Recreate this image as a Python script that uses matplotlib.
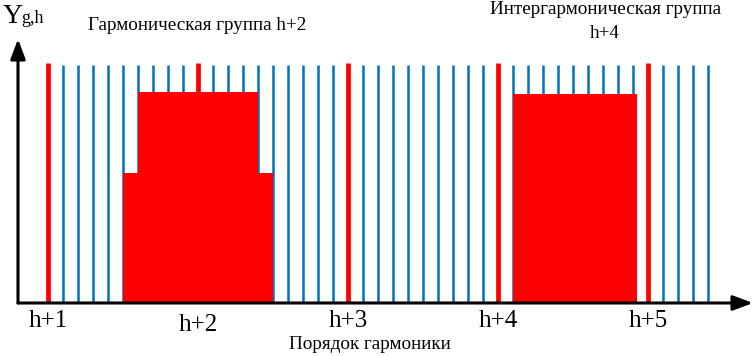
import matplotlib
matplotlib.use("Agg")
import matplotlib.pyplot as plt

# ---- data ----
harmonic_orders = [1, 2, 3, 4, 5]
harmonic_labels = ["h+1", "h+2", "h+3", "h+4", "h+5"]
harmonic_level = [1.01, 1.01, 1.01, 1.01, 1.01]

interharmonic_bins = [1.1, 1.2, 1.3, 1.4, 1.5, 1.6, 1.7, 1.8, 1.9,
                      2.1, 2.2, 2.3, 2.4, 2.5, 2.6, 2.7, 2.8, 2.9,
                      3.1, 3.2, 3.3, 3.4, 3.5, 3.6, 3.7, 3.8, 3.9,
                      4.1, 4.2, 4.3, 4.4, 4.5, 4.6, 4.7, 4.8, 4.9,
                      5.1, 5.2, 5.3, 5.4]
interharmonic_level = [1.0] * len(interharmonic_bins)

# harmonic group h+2: (left edge, right edge, height)
harm_group_left = [1.5, 1.6, 2.4]
harm_group_right = [1.6, 2.4, 2.5]
harm_group_height = [0.546, 0.887, 0.546]

# interharmonic group h+4
inter_group_left = [4.1]
inter_group_right = [4.925]
inter_group_height = [0.878]

RED = "#FF0000"
BLUE = "#0070C0"
SERIF = ["Liberation Serif", "DejaVu Serif"]

W, H = 755, 356
fig = plt.figure(figsize=(W / 100, H / 100), dpi=100)
ax = fig.add_axes([0, 0, 1, 1])
# pixel mapping: x_px = 48 + (h-1)*150 ; y_px = 303 - v*238
ax.set_xlim(1 - 48 / 150, 1 + (W - 48) / 150)
ax.set_ylim(-(H - 303) / 238, 303 / 238)
ax.axis("off")

# blue interharmonic lines
ax.vlines(interharmonic_bins, 0, interharmonic_level, colors=BLUE, linewidth=1.8, zorder=2)

# group blocks
for l, r, h in zip(harm_group_left, harm_group_right, harm_group_height):
    ax.bar(l, h, width=r - l, align="edge", color=RED, linewidth=0, zorder=3)
for l, r, h in zip(inter_group_left, inter_group_right, inter_group_height):
    ax.bar(l, h, width=r - l, align="edge", color=RED, linewidth=0, zorder=3)

# red harmonic lines
ax.vlines(harmonic_orders, 0, harmonic_level, colors=RED, linewidth=3.4, zorder=4)

# axes arrows
x0 = 1 - 30 / 150
ax.annotate("", xy=(1 + (753 - 48) / 150, 0), xytext=(x0, 0),
            arrowprops=dict(arrowstyle="-|>,head_length=1.2,head_width=0.45",
                            color="black", lw=2.2, shrinkA=0, shrinkB=0), zorder=5)
ax.annotate("", xy=(x0, (303 - 39) / 238), xytext=(x0, 0),
            arrowprops=dict(arrowstyle="-|>,head_length=1.2,head_width=0.45",
                            color="black", lw=2.2, shrinkA=0, shrinkB=0), zorder=5)

# tick labels (baseline pixel rows)
label_base = [327, 331, 327, 327, 327]
for h, lab, yb in zip(harmonic_orders, harmonic_labels, label_base):
    ax.text(h, -(yb - 303) / 238, lab, ha="center", va="baseline",
            fontsize=18, family=SERIF)

def ftext(x, y, s, **kw):
    fig.text(x / W, 1 - y / H, s, family=SERIF, **kw)

ftext(370, 349, "Порядок гармоники", ha="center", va="baseline", fontsize=13.8)
ftext(197, 29.5, "Гармоническая группа h+2", ha="center", va="baseline", fontsize=13.8)
ftext(606, 14, "Интергармоническая группа", ha="center", va="baseline", fontsize=13.8)
ftext(605, 38, "h+4", ha="center", va="baseline", fontsize=13.8)
ftext(3, 23, "Y", ha="left", va="baseline", fontsize=20)
ftext(21, 23, "g,h", ha="left", va="baseline", fontsize=13)

fig.savefig("out.png", dpi=100)
